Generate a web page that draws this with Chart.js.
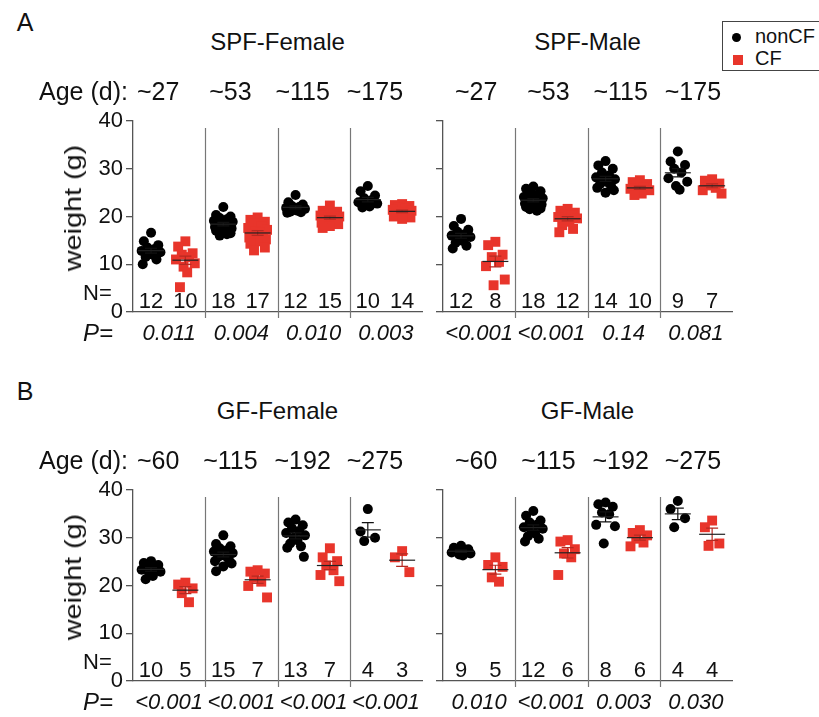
<!DOCTYPE html>
<html>
<head>
<meta charset="utf-8">
<script src="https://cdn.jsdelivr.net/npm/chart.js@4.4.0/dist/chart.umd.min.js"></script>
<style>
  body { margin: 0; width: 819px; height: 717px; overflow: hidden; background: #fff; position: relative;
         font-family: "Liberation Sans", Arial, sans-serif; color: #111; }
  .t { position: absolute; transform: translate(-50%, -50%); line-height: 1; white-space: nowrap; }
  .l { position: absolute; transform: translate(0, -50%); line-height: 1; white-space: nowrap; }
  canvas { position: absolute; }
  #legend { position: absolute; left: 722px; top: 21px; width: 110px; height: 48px; border: 1px solid #444; }
</style>
</head>
<body>
<div id="legend"></div>
<script>
// ages (days) per cohort
const ageSPF = ['~27', '~53', '~115', '~175'];
const ageGF = ['~60', '~115', '~192', '~275'];

// body weight (g), one list per age group
const spfFemaleNonCF = [
  [16.6, 14.8, 14.0, 13.5, 13.2, 12.8, 12.5, 12.2, 12.0, 11.5, 11.0, 10.0],
  [22.0, 20.3, 20.0, 19.7, 19.4, 19.1, 18.9, 18.7, 18.5, 18.3, 18.0, 17.8, 17.5, 17.2, 17.0, 16.5, 16.0, 16.3],
  [24.5, 23.0, 22.5, 22.2, 22.0, 21.8, 21.6, 21.4, 21.2, 21.0, 20.9, 20.8],
  [26.4, 25.3, 24.4, 23.8, 23.4, 23.0, 22.7, 22.4, 22.1, 21.9]
];
const spfFemaleCF = [
  [14.8, 13.7, 12.3, 12.0, 11.5, 11.0, 10.2, 9.5, 8.3, 5.2],
  [19.8, 19.3, 18.9, 18.5, 18.0, 17.6, 17.2, 16.9, 16.6, 16.3, 16.0, 15.6, 15.2, 14.8, 14.3, 13.5, 12.9],
  [22.3, 21.2, 21.0, 20.7, 20.4, 20.2, 20.0, 19.8, 19.6, 19.4, 19.0, 18.7, 18.4, 18.0, 17.6],
  [22.6, 22.4, 22.2, 21.9, 21.6, 21.4, 21.2, 21.0, 20.8, 20.5, 20.2, 20.0, 19.8, 19.5]
];
const spfMaleNonCF = [
  [19.5, 18.0, 17.2, 16.8, 16.3, 16.0, 15.7, 15.3, 14.9, 14.5, 13.9, 13.3],
  [26.3, 25.8, 25.3, 24.9, 24.5, 24.1, 23.8, 23.5, 23.3, 23.1, 22.9, 22.7, 22.5, 22.2, 22.0, 21.7, 21.5, 21.2],
  [31.6, 30.7, 30.0, 29.2, 28.6, 28.2, 27.8, 27.5, 27.2, 26.8, 26.4, 26.0, 25.5, 25.0],
  [33.6, 31.5, 30.8, 30.0, 29.2, 28.0, 27.3, 26.4, 25.6]
];
const spfMaleCF = [
  [14.7, 14.0, 12.0, 11.5, 10.5, 9.6, 6.8, 5.6],
  [21.6, 21.2, 20.8, 20.5, 20.2, 19.9, 19.6, 19.3, 18.9, 18.2, 17.4, 16.7],
  [27.6, 27.2, 26.8, 26.4, 26.1, 25.8, 25.5, 25.2, 24.8, 24.5],
  [27.8, 27.5, 26.9, 26.5, 26.0, 25.5, 24.8]
];
const gfFemaleNonCF = [
  [25.1, 24.7, 24.3, 24.0, 23.6, 23.3, 22.9, 22.5, 22.0, 21.3],
  [30.5, 28.7, 28.2, 27.8, 27.4, 27.1, 26.8, 26.5, 26.2, 25.9, 25.5, 25.1, 24.6, 24.0, 23.0],
  [33.8, 33.2, 32.6, 32.0, 31.4, 31.0, 30.5, 30.0, 29.5, 28.8, 28.2, 27.9, 26.0],
  [36.0, 31.3, 30.0, 29.3]
];
const gfFemaleCF = [
  [20.6, 20.2, 19.4, 18.4, 16.5],
  [23.2, 22.9, 22.5, 21.6, 20.8, 19.9, 17.5],
  [27.8, 25.9, 25.1, 24.2, 23.2, 22.2, 20.9],
  [27.2, 25.9, 22.8]
];
const gfMaleNonCF = [
  [28.3, 27.9, 27.6, 27.3, 27.1, 26.9, 26.7, 26.5, 26.3],
  [35.6, 34.6, 33.6, 33.2, 32.7, 32.2, 31.9, 31.5, 30.9, 30.3, 29.8, 29.2],
  [37.4, 37.0, 36.5, 35.3, 34.9, 32.7, 32.4, 28.8],
  [37.7, 36.0, 34.1, 32.2]
];
const gfMaleCF = [
  [25.9, 24.3, 23.9, 21.7, 20.8],
  [29.5, 29.2, 27.6, 26.7, 25.9, 22.2],
  [31.6, 31.0, 30.5, 29.8, 29.0, 28.2],
  [33.6, 32.2, 28.8, 28.3]
];

// P values
const pSpfFemale = ['0.011', '0.004', '0.010', '0.003'];
const pSpfMale = ['<0.001', '<0.001', '0.14', '0.081'];
const pGfFemale = ['<0.001', '<0.001', '<0.001', '<0.001'];
const pGfMale = ['0.010', '<0.001', '0.003', '0.030'];

const yTicks = [0, 10, 20, 30, 40];

const FONT = '"Liberation Sans", Arial, sans-serif';
const BLACK = '#000';
const RED = '#e8352b';
const X_NON = 0.5, X_CF = 1.45;

function addText(txt, x, y, size, cls, extra) {
  const d = document.createElement('div');
  d.className = cls || 't';
  d.textContent = txt;
  d.style.left = x + 'px';
  d.style.top = y + 'px';
  d.style.fontSize = size + 'px';
  if (extra) Object.assign(d.style, extra);
  document.body.appendChild(d);
  return d;
}

// spread points sideways so they don't stack
function jitter(k) {
  const pat = [0, -0.2, 0.2, -0.1, 0.1, -0.26, 0.26, -0.05, 0.05, -0.15, 0.15, -0.23, 0.23];
  return pat[k % pat.length];
}
function toPoints(groups, base) {
  const pts = [];
  groups.forEach((vals, i) => vals.forEach((v, k) => pts.push({ x: 2 * i + base + jitter(k), y: v })));
  return pts;
}
function meanSem(vals) {
  const n = vals.length;
  const m = vals.reduce((a, b) => a + b, 0) / n;
  const sd = Math.sqrt(vals.reduce((a, b) => a + (b - m) * (b - m), 0) / (n - 1));
  return [m, sd / Math.sqrt(n)];
}

const panels = [
  { title: 'SPF-Female', ages: ageSPF, nonCF: spfFemaleNonCF, cf: spfFemaleCF, p: pSpfFemale, left: 133, top: 121, labels: true, ageShift: -11 },
  { title: 'SPF-Male', ages: ageSPF, nonCF: spfMaleNonCF, cf: spfMaleCF, p: pSpfMale, left: 443, top: 121, labels: false, ageShift: -3 },
  { title: 'GF-Female', ages: ageGF, nonCF: gfFemaleNonCF, cf: gfFemaleCF, p: pGfFemale, left: 133, top: 490, labels: true, ageShift: -11 },
  { title: 'GF-Male', ages: ageGF, nonCF: gfMaleNonCF, cf: gfMaleCF, p: pGfMale, left: 443, top: 490, labels: false, ageShift: -3 }
];

const AXW = 53, PLOTW = 289, PLOTH = 191, PADT = 21, PADR = 10, PADB = 20;

panels.forEach(pn => {
  const cv = document.createElement('canvas');
  cv.width = AXW + PLOTW + PADR;
  cv.height = PADT + PLOTH + PADB;
  const cl = pn.left - AXW, ct = pn.top - PADT;
  cv.style.left = cl + 'px';
  cv.style.top = ct + 'px';
  document.body.appendChild(cv);

  const deco = {
    id: 'deco',
    beforeDatasetsDraw(chart) {
      const { ctx, chartArea: a, scales: { x } } = chart;
      ctx.save();
      ctx.strokeStyle = '#777';
      ctx.lineWidth = 1.2;
      [2, 4, 6].forEach(v => {
        const px = Math.round(x.getPixelForValue(v)) + 0.5;
        ctx.beginPath();
        ctx.moveTo(px, a.top + 7);
        ctx.lineTo(px, a.bottom + 6);
        ctx.stroke();
      });
      ctx.restore();
    },
    afterDatasetsDraw(chart) {
      const { ctx, scales: { x, y } } = chart;
      ctx.save();
      [[pn.nonCF, X_NON, '#111'], [pn.cf, X_CF, '#b52a22']].forEach(([groups, base, col]) => {
        groups.forEach((vals, i) => {
          const [m, se] = meanSem(vals);
          const px = x.getPixelForValue(2 * i + base);
          const pm = y.getPixelForValue(m), p1 = y.getPixelForValue(m + se), p2 = y.getPixelForValue(m - se);
          ctx.lineWidth = 1.2;
          ctx.strokeStyle = col;
          ctx.beginPath();
          ctx.moveTo(px, p1); ctx.lineTo(px, p2);
          ctx.moveTo(px - 6, p1); ctx.lineTo(px + 6, p1);
          ctx.moveTo(px - 6, p2); ctx.lineTo(px + 6, p2);
          ctx.stroke();
          ctx.strokeStyle = '#222';
          ctx.beginPath();
          ctx.moveTo(px - 13, pm); ctx.lineTo(px + 13, pm);
          ctx.stroke();
        });
      });
      ctx.restore();
    }
  };

  const chart = new Chart(cv, {
    type: 'scatter',
    data: {
      datasets: [
        { label: 'nonCF', data: toPoints(pn.nonCF, X_NON), pointStyle: 'circle', pointRadius: 5,
          backgroundColor: BLACK, borderWidth: 0 },
        { label: 'CF', data: toPoints(pn.cf, X_CF), pointStyle: 'rect', pointRadius: 7,
          backgroundColor: RED, borderWidth: 0 }
      ]
    },
    options: {
      responsive: false,
      animation: false,
      events: [],
      clip: false,
      layout: { padding: { top: PADT, right: PADR, bottom: PADB, left: 0 } },
      plugins: { legend: { display: false }, tooltip: { enabled: false } },
      scales: {
        x: {
          type: 'linear', min: 0, max: 8,
          afterFit(s) { s.height = 0; },
          ticks: { display: false },
          grid: { display: true, drawOnChartArea: false, drawTicks: false },
          border: { display: true, color: '#555', width: 1.3 }
        },
        y: {
          min: 0, max: 40,
          afterFit(s) { s.width = AXW; },
          afterBuildTicks(s) { s.ticks = yTicks.map(v => ({ value: v })); },
          ticks: { font: { family: FONT, size: 22 }, color: '#111', padding: 3,
                   callback: v => pn.labels ? String(v) : '' },
          grid: { drawOnChartArea: false, drawTicks: true, tickLength: 7, color: '#555', lineWidth: 1.3 },
          border: { display: true, color: '#555', width: 1.3 }
        }
      }
    },
    plugins: [deco]
  });

  const dy = pn.top - 121;
  const xs = chart.scales.x;
  const px = v => cl + xs.getPixelForValue(v);

  addText(pn.title, cl + (chart.chartArea.left + chart.chartArea.right) / 2, 42 + dy, 24);
  pn.ages.forEach((a, i) => addText(a, px(2 * i + 1) + pn.ageShift, 91 + dy, 25));
  pn.nonCF.forEach((vals, i) => addText(String(vals.length), px(2 * i + X_NON), 301 + dy, 22));
  pn.cf.forEach((vals, i) => addText(String(vals.length), px(2 * i + X_CF), 301 + dy, 22));
  pn.p.forEach((p, i) => addText(p, px(2 * i + 1), 333 + dy, 22, 't', { fontStyle: 'italic' }));

  if (pn.labels) {
    addText('Age (d):', 39, 91 + dy, 25, 'l');
    addText('N=', 83, 293 + dy, 22, 'l');
    addText('P=', 83, 333 + dy, 24, 'l', { fontStyle: 'italic' });
    addText('weight (g)', 73, 208 + dy, 24, 't',
      { transform: 'translate(-50%,-50%) rotate(-90deg) scaleX(1.2)' });
  }
});

addText('A', 25, 22, 25);
addText('B', 25, 391, 25);

// legend
const lg = document.getElementById('legend');
const dot = document.createElement('div');
Object.assign(dot.style, { position: 'absolute', left: '9px', top: '11px', width: '9px', height: '9px', borderRadius: '50%', background: BLACK });
lg.appendChild(dot);
const sq = document.createElement('div');
Object.assign(sq.style, { position: 'absolute', left: '10px', top: '33px', width: '10px', height: '10px', background: RED });
lg.appendChild(sq);
addText('nonCF', 755, 36, 20, 'l');
addText('CF', 755, 58, 20, 'l');
</script>
</body>
</html>
